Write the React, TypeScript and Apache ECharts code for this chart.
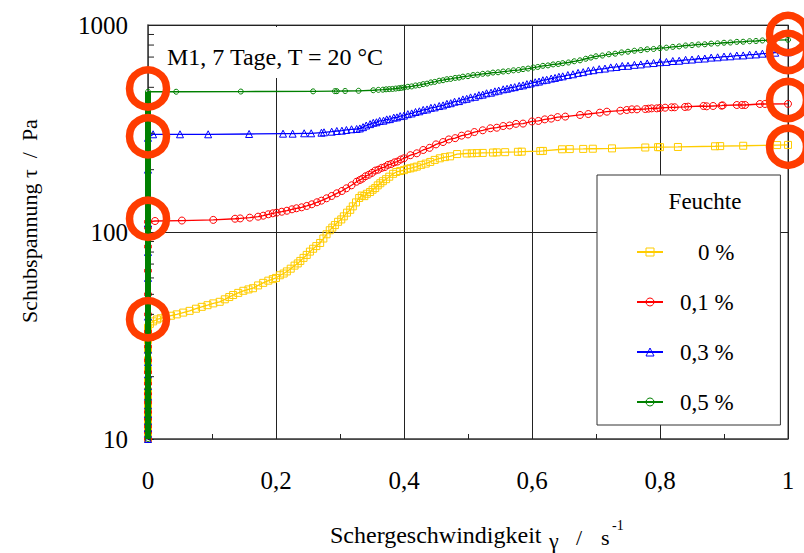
import React, { useEffect, useRef } from 'react';
import * as echarts from 'echarts';

const FONT = 'Liberation Serif, Times New Roman, serif';

// Legend names
const seriesNames = ['0 %', '0,1 %', '0,3 %', '0,5 %'];
// extra left padding of each legend label so that the labels end flush right
const legendPad = [30, 12, 12, 12];

// x tick labels / axis
const xTicks = [0, 0.2, 0.4, 0.6, 0.8, 1];
// y minor tick values (log axis)
const yMinorTicks = [20, 30, 40, 50, 60, 70, 80, 90, 200, 300, 400, 500, 600, 700, 800, 900];

// Values measured at shear rate ~0 (x = 0)
const yellowZeroY = [10, 10.5, 11.2, 12, 13, 14.2, 15.5, 17, 19, 21.5, 24, 27, 30, 32.5, 34.5];
const redZeroY = [10, 10.8, 11.5, 12.5, 13.5, 15, 16.5, 18.5, 21, 24, 28, 33, 40, 50, 65, 85, 105, 112];
const blueZeroY = [10, 10.6, 11.3, 12.2, 13.2, 14.5, 16, 18, 20.5, 23.5, 27, 32, 39, 48, 60, 80, 110, 150, 200, 250, 285];
const greenZeroY = [10, 10.5, 11, 11.6, 12.3, 13, 14, 15, 16.2, 17.5, 19, 21, 23, 25.5, 28, 31, 35, 40, 46, 53, 62, 73, 87, 105, 128, 160, 200, 250, 310, 380, 440, 476];

// 0 % : [shear rate, stress]
const yellowPts = [
  [0.003, 36], [0.008, 37], [0.014, 37.8], [0.02, 38.3], [0.027, 38.8], [0.036, 39.4], [0.045, 40], [0.055, 40.8],
  [0.065, 41.6], [0.075, 42.6], [0.084, 43.5], [0.093, 44.3], [0.102, 45.2], [0.112, 46], [0.12, 47.3], [0.127, 48.5],
  [0.133, 49.6], [0.141, 50.8], [0.149, 52], [0.157, 52.8], [0.164, 53.5], [0.172, 55.2], [0.18, 56.8], [0.188, 58.2],
  [0.195, 59.2], [0.2, 60], [0.206, 61.8], [0.212, 63], [0.217, 64.5], [0.223, 66.5], [0.229, 68.8], [0.234, 70.5],
  [0.238, 72.5], [0.243, 75], [0.248, 77.5], [0.253, 80.4], [0.258, 83], [0.263, 85.5], [0.269, 88.5], [0.274, 93],
  [0.279, 97.5], [0.284, 102], [0.288, 105], [0.292, 108], [0.297, 112], [0.302, 115], [0.306, 119], [0.311, 124],
  [0.316, 128], [0.32, 133], [0.325, 139], [0.33, 146], [0.334, 150], [0.338, 149], [0.342, 153], [0.347, 156],
  [0.351, 160], [0.355, 163], [0.359, 168], [0.363, 172], [0.367, 176], [0.372, 180], [0.377, 185], [0.383, 191],
  [0.388, 195], [0.394, 197], [0.4, 199], [0.405, 202], [0.41, 203], [0.415, 205], [0.42, 207], [0.427, 211],
  [0.434, 214], [0.441, 218], [0.448, 223], [0.456, 227], [0.464, 230], [0.472, 232], [0.483, 238], [0.498, 239.5],
  [0.506, 240], [0.514, 240.5], [0.523, 241], [0.539, 242], [0.545, 242.5], [0.558, 243], [0.578, 244], [0.584, 244.5],
  [0.613, 246], [0.617, 246.5], [0.647, 251], [0.659, 251.5], [0.68, 252], [0.695, 252.5], [0.725, 253.5], [0.777, 256],
  [0.797, 257], [0.8, 257], [0.828, 257.5], [0.886, 259.5], [0.894, 260], [0.93, 261], [0.983, 263], [1.0, 263.5],
];

// 0,1 %
const redPts = [
  [0.011, 113], [0.053, 113.6], [0.102, 114.4], [0.136, 115.9], [0.144, 116.3], [0.159, 117.3], [0.172, 118.6], [0.18, 119.9],
  [0.188, 121.8], [0.195, 123.1], [0.201, 124], [0.209, 125.3], [0.217, 126.7], [0.225, 128.7], [0.232, 130.2], [0.24, 131.6],
  [0.248, 133.6], [0.256, 136.1], [0.264, 139.2], [0.271, 141.7], [0.279, 145.5], [0.287, 149.3], [0.295, 153.8], [0.303, 157.8],
  [0.31, 162.6], [0.318, 168.1], [0.326, 175], [0.331, 178.3], [0.335, 181], [0.34, 186], [0.345, 189], [0.35, 193],
  [0.355, 198], [0.36, 200], [0.365, 204], [0.37, 206], [0.375, 211], [0.38, 213], [0.385, 217], [0.39, 219],
  [0.395, 224], [0.4, 227], [0.41, 235], [0.42, 240], [0.43, 249], [0.44, 255], [0.45, 265], [0.461, 272],
  [0.47, 280], [0.48, 284], [0.49, 292], [0.5, 296], [0.51, 304], [0.523, 310], [0.535, 317], [0.545, 319],
  [0.555, 325], [0.565, 327], [0.575, 333], [0.586, 334], [0.6, 342], [0.61, 344], [0.62, 350], [0.63, 353],
  [0.64, 359], [0.652, 361], [0.675, 367.6], [0.688, 371.5], [0.706, 377.2], [0.717, 381.3], [0.738, 385.5], [0.748, 388.5],
  [0.756, 391.4], [0.764, 391.4], [0.777, 392.8], [0.782, 394.2], [0.787, 395.7], [0.795, 395.7], [0.8, 397.2], [0.808, 398.6],
  [0.818, 400.4], [0.823, 400.4], [0.839, 401.8], [0.844, 403.2], [0.868, 406.2], [0.873, 404.7], [0.883, 406.2], [0.896, 407.7],
  [0.898, 409], [0.92, 410.7], [0.928, 410.7], [0.933, 410.7], [0.956, 415.3], [0.964, 415.3], [1.0, 416],
];

// 0,3 %
const bluePts = [
  [0.008, 296.5], [0.05, 296.5], [0.094, 296.5], [0.158, 297.5], [0.211, 298.5], [0.226, 298.5], [0.244, 299.8], [0.255, 299.8],
  [0.271, 301.8], [0.275, 303.1], [0.287, 305.2], [0.295, 307.6], [0.303, 308.6], [0.31, 311.1], [0.318, 313.5], [0.326, 314.5],
  [0.331, 316.5], [0.336, 321], [0.341, 327], [0.347, 332], [0.352, 337], [0.357, 339], [0.362, 344], [0.368, 345],
  [0.373, 350], [0.378, 351], [0.384, 357], [0.389, 358], [0.394, 363], [0.4, 365], [0.406, 371], [0.412, 374],
  [0.418, 380], [0.424, 383], [0.43, 389], [0.436, 391], [0.442, 398], [0.448, 400], [0.455, 406], [0.461, 409],
  [0.467, 416], [0.473, 419], [0.479, 426], [0.486, 429], [0.492, 437], [0.498, 440], [0.504, 447], [0.511, 450],
  [0.517, 458], [0.523, 461], [0.529, 468], [0.536, 471], [0.542, 478], [0.548, 482], [0.555, 489], [0.561, 492],
  [0.567, 498], [0.573, 501], [0.58, 508], [0.586, 511], [0.592, 518], [0.598, 522], [0.605, 529], [0.611, 533],
  [0.617, 541], [0.623, 544], [0.63, 551], [0.636, 555], [0.642, 562], [0.648, 565], [0.656, 573], [0.664, 578],
  [0.672, 587], [0.68, 592], [0.688, 601], [0.696, 605], [0.705, 612], [0.714, 616], [0.723, 624], [0.732, 627],
  [0.741, 634], [0.75, 635], [0.76, 642], [0.77, 645], [0.78, 652], [0.79, 655], [0.8, 661], [0.81, 663],
  [0.82, 670], [0.83, 672], [0.84, 679], [0.85, 681], [0.86, 687], [0.87, 689], [0.88, 696], [0.89, 698],
  [0.9, 704], [0.91, 706], [0.92, 712], [0.93, 713], [0.94, 719], [0.95, 721], [0.96, 727], [0.97, 730],
  [0.98, 735], [1.0, 738],
];

// 0,5 %
const greenPts = [
  [0.044, 476], [0.145, 477], [0.258, 478], [0.292, 479], [0.295, 479], [0.308, 480], [0.329, 481], [0.352, 484],
  [0.36, 486], [0.367, 487], [0.372, 489], [0.377, 490], [0.382, 491], [0.387, 493], [0.392, 495], [0.396, 497],
  [0.4, 499], [0.406, 503], [0.412, 505], [0.418, 510], [0.424, 512], [0.43, 518], [0.436, 521], [0.442, 528],
  [0.448, 531], [0.455, 538], [0.461, 541], [0.467, 547], [0.473, 549], [0.48, 555], [0.486, 557], [0.492, 563],
  [0.5, 566], [0.508, 573], [0.515, 575], [0.523, 581], [0.531, 583], [0.539, 589], [0.547, 591], [0.555, 596],
  [0.563, 598], [0.571, 604], [0.579, 606], [0.586, 612], [0.594, 616], [0.602, 623], [0.609, 627], [0.617, 635],
  [0.625, 638], [0.633, 645], [0.641, 648], [0.648, 654], [0.657, 659], [0.666, 668], [0.675, 675], [0.684, 687],
  [0.692, 696], [0.7, 706], [0.71, 712], [0.72, 722], [0.73, 727], [0.74, 737], [0.75, 743], [0.76, 751],
  [0.77, 756], [0.78, 763], [0.79, 766], [0.8, 773], [0.81, 777], [0.82, 784], [0.83, 788], [0.84, 796],
  [0.85, 799], [0.86, 805], [0.87, 807], [0.88, 813], [0.89, 815], [0.9, 821], [0.91, 823], [0.92, 829],
  [0.93, 830], [0.94, 835], [0.95, 837], [0.96, 842], [0.97, 843], [0.977, 846], [1.0, 848],
];

// highlight rings
const ringX = [0, 0, 0, 0, 1, 1, 1, 1];
const ringY = [494, 290, 115.8, 37.9, 905, 741, 434, 258];

const COLORS = ['#FFCC00', '#FF0000', '#0000FF', '#008000'];
const SYMBOLS = ['rect', 'circle', 'triangle', 'circle'];
const SIZES = [7, 7, 7, 5];
const ZEROS = [yellowZeroY, redZeroY, blueZeroY, greenZeroY];
const PTS = [yellowPts, redPts, bluePts, greenPts];

export default function App() {
  const ref = useRef<HTMLDivElement>(null);
  useEffect(() => {
    const chart = echarts.init(ref.current!, null, { renderer: 'svg' });

    const lineSeries = seriesNames.map((name, i) => ({
      name,
      type: 'line',
      data: [...ZEROS[i].map((v) => [0, v]), ...PTS[i]],
      symbol: SYMBOLS[i],
      symbolSize: SIZES[i],
      showAllSymbol: true,
      lineStyle: { color: COLORS[i], width: 1.3 },
      itemStyle: { color: 'rgba(0,0,0,0)', borderColor: COLORS[i], borderWidth: 1 },
      z: 2,
      silent: true,
    }));

    const txt = (text: string, x: number, y: number, size: number, extra: any = {}) => ({
      type: 'text', x, y, silent: true, z: extra.z ?? 50, rotation: extra.rotation ?? 0,
      style: {
        text, fontFamily: FONT, fontSize: size, fill: '#000',
        align: extra.align ?? 'left', verticalAlign: 'middle',
      },
    });

    const option: any = {
      animation: false,
      backgroundColor: '#fff',
      textStyle: { fontFamily: FONT },
      grid: {
        left: 148, right: 16, top: 25, bottom: 114,
        show: true, borderColor: '#555', borderWidth: 1.2, backgroundColor: 'transparent',
      },
      xAxis: {
        type: 'value', min: 0, max: 1, interval: 0.2,
        axisLine: { show: true, lineStyle: { color: '#555', width: 1.5 } },
        axisTick: { show: true, inside: true, length: 6, lineStyle: { color: '#222' } },
        minorTick: { show: true, splitNumber: 2, length: 5, lineStyle: { color: '#222' } },
        splitLine: { show: true, lineStyle: { color: '#222', width: 1 } },
        axisLabel: {
          fontFamily: FONT, fontSize: 25, color: '#000', margin: 29,
          formatter: (v: number) => (xTicks.includes(v) ? String(v).replace('.', ',') : ''),
        },
      },
      yAxis: {
        type: 'log', logBase: 10, min: 10, max: 1000,
        axisLine: { show: true, lineStyle: { color: '#555', width: 1.5 } },
        axisTick: { show: true, inside: true, length: 6, lineStyle: { color: '#222' } },
        splitLine: { show: true, lineStyle: { color: '#222', width: 1 } },
        axisLabel: { fontFamily: FONT, fontSize: 25, color: '#000', margin: 20, formatter: (v: number) => String(Math.round(v)) },
      },
      legend: {
        data: seriesNames.map((name, i) => ({
          name,
          textStyle: { fontFamily: FONT, fontSize: 23, color: '#000', lineHeight: 24, padding: [0, 0, 0, legendPad[i]] },
        })),
        orient: 'vertical',
        left: 597, top: 175,
        padding: [65, 46, 11, 39],
        itemWidth: 26, itemHeight: 10, itemGap: 26,
        backgroundColor: '#fff', borderColor: '#333', borderWidth: 1,
        itemStyle: { borderWidth: 1 },
        selectedMode: false,
        textStyle: { fontFamily: FONT, fontSize: 23, color: '#000', lineHeight: 24 },
      },
      graphic: [
        { type: 'rect', shape: { x: 158, y: 27, width: 240, height: 51 }, style: { fill: '#fff' }, z: 5, silent: true },
        txt('M1, 7 Tage, T = 20 °C', 167, 57, 24, { z: 6 }),
        txt('Feuchte', 705, 201, 23, { z: 100, align: 'center' }),
        txt('Schergeschwindigkeit', 330, 535, 24),
        txt('γ', 549, 540, 22),
        txt('/', 576, 537, 22),
        txt('s', 601, 537, 22),
        txt('-1', 612, 525, 14),
        txt('Schubspannung τ  /  Pa', 29, 221, 22, { rotation: Math.PI / 2, align: 'center' }),
      ],
      series: [
        ...lineSeries,
        {
          name: 'bar-0,5', type: 'line', data: greenZeroY.map((v) => [0, v]),
          symbol: 'none', lineStyle: { color: COLORS[3], width: 6 }, z: 3, silent: true,
        },
        {
          name: 'yMinor', type: 'custom', silent: true, z: 3, clip: false,
          data: yMinorTicks.map((v) => [0, v]),
          renderItem: (_p: any, api: any) => {
            const p = api.coord([0, api.value(1)]);
            return { type: 'line', shape: { x1: p[0], y1: p[1], x2: p[0] + 6, y2: p[1] }, style: { stroke: '#222', lineWidth: 1 } };
          },
        },
        {
          name: 'rings', type: 'scatter', silent: true, z: 10, clip: false,
          data: ringX.map((x, i) => [x, ringY[i]]),
          symbol: 'circle', symbolSize: 37,
          itemStyle: { color: 'rgba(0,0,0,0)', borderColor: '#FF3C00', borderWidth: 7.5, opacity: 1 },
        },
      ],
    };
    chart.setOption(option);
    return () => chart.dispose();
  }, []);
  return <div ref={ref} style={{ position: 'fixed', left: 0, top: 0, width: 804, height: 553, background: '#fff' }} />;
}
